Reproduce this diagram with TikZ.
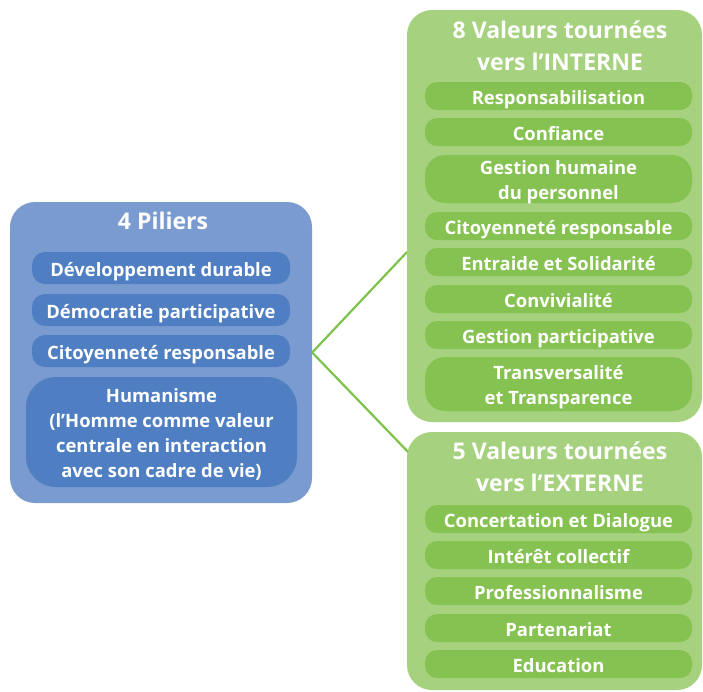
\documentclass[tikz,border=0pt]{standalone}
\usepackage{fontspec}
\setmainfont{Open Sans}
\usetikzlibrary{backgrounds}
\definecolor{bleuclair}{HTML}{7A9BD0}
\definecolor{bleufonce}{HTML}{4F7FC2}
\definecolor{vertclair}{HTML}{A6D17E}
\definecolor{vertfonce}{HTML}{86C251}
\definecolor{vertlien}{HTML}{7DC24B}

\begin{document}
\begin{tikzpicture}[x=1pt,y=-1pt,
	cadre/.style={rounded corners=25pt,inner sep=0pt},
	titre/.style={text=white,align=center,inner sep=0pt,text height=48.5pt,text depth=0pt,
		font=\fontsize{23}{32}\selectfont\bfseries},
	pilier/.style={fill=bleufonce,text=white,rounded corners=13pt,inner sep=0pt,
		minimum width=258pt,minimum height=32pt,align=center,text height=16pt,text depth=0pt,
		font=\fontsize{18.4}{25}\selectfont\bfseries},
	valeur/.style={fill=vertfonce,text=white,rounded corners=12pt,inner sep=0pt,
		minimum width=267pt,minimum height=28pt,align=center,text height=16pt,text depth=0pt,
		font=\fontsize{18.4}{25}\selectfont\bfseries},
	deuxlignes/.style={minimum height=#1,rounded corners=20pt,text height=41pt},
	lien/.style={draw=vertlien,line width=2.2pt}]
	\useasboundingbox (0,0) rectangle (703,691);
	% les 4 piliers
	\node[cadre,fill=bleuclair,minimum width=302pt,minimum height=301pt] (pil) at (161,352.5) {};
	\node[titre,text height=16.5pt] (piltitre) at (163,221) {4 Piliers};
	\node[pilier] (dev) at (161,268) {Développement durable};
	\node[pilier] (demo) at (161,310) {Démocratie participative};
	\node[pilier] (cit) at (161,351) {Citoyenneté responsable};
	\node[pilier,minimum width=271pt,minimum height=110pt,rounded corners=30pt,text height=91pt] (hum) at (161.5,432)
	{Humanisme\\(l’Homme comme valeur\\centrale en interaction\\avec son cadre de vie)};
	% valeurs internes
	\node[cadre,fill=vertclair,minimum width=295pt,minimum height=412pt] (int) at (554.5,216) {};
	\node[titre] (inttitre) at (560,46) {8 Valeurs tournées\\vers l’INTERNE};
	\node[valeur] (resp) at (558.5,96) {Responsabilisation};
	\node[valeur] (conf) at (558.5,132) {Confiance};
	\node[valeur,deuxlignes=48pt] (gest) at (558.5,179) {Gestion humaine\\du personnel};
	\node[valeur] (citi) at (558.5,226) {Citoyenneté responsable};
	\node[valeur] (entr) at (558.5,262) {Entraide et Solidarité};
	\node[valeur] (conv) at (558.5,299) {Convivialité};
	\node[valeur] (gpar) at (558.5,335) {Gestion participative};
	\node[valeur,deuxlignes=54pt] (trans) at (558.5,384) {Transversalité\\et Transparence};
	% valeurs externes
	\node[cadre,fill=vertclair,minimum width=295pt,minimum height=258pt] (ext) at (554.5,561) {};
	\node[titre] (exttitre) at (560,467.5) {5 Valeurs tournées\\vers l’EXTERNE};
	\node[valeur] (conc) at (558.5,519) {Concertation et Dialogue};
	\node[valeur] (inte) at (558.5,555) {Intérêt collectif};
	\node[valeur] (prof) at (558.5,591) {Professionnalisme};
	\node[valeur] (part) at (558.5,628) {Partenariat};
	\node[valeur] (educ) at (558.5,664) {Education};
	% liens
	\coordinate (haut) at (407,252);
	\coordinate (bas) at (412,456);
	\begin{scope}[on background layer]
		\draw[lien] (haut) -- (pil.east) -- (bas);
	\end{scope}
\end{tikzpicture}
\end{document}
